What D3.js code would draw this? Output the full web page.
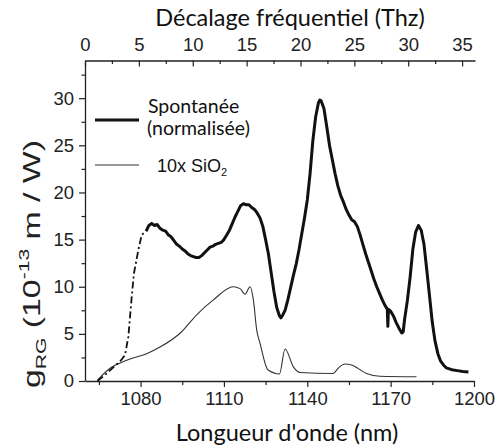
<!DOCTYPE html>
<html>
<head>
<meta charset="utf-8">
<script src="https://cdn.jsdelivr.net/npm/d3@7"></script>
<style>
  body { margin: 0; background: #fff; }
  svg { display: block; }
</style>
</head>
<body>
<div id="chart"></div>
<script>
// Spontaneous (normalised) gain, solid part
const spontWl = [1082, 1083, 1084, 1085, 1086, 1087, 1088, 1089, 1090, 1091, 1092, 1093, 1094, 1095, 1096, 1097, 1098, 1099, 1100, 1101,
  1102, 1103, 1104, 1105, 1106, 1107, 1108, 1109, 1110, 1111, 1112, 1113, 1114, 1115, 1116, 1117, 1118, 1119, 1120, 1121,
  1122, 1123, 1124, 1125, 1126, 1127, 1128, 1129, 1130, 1130.5, 1131, 1132, 1133, 1134, 1135, 1136, 1137, 1138, 1139, 1140,
  1141, 1142, 1143, 1144, 1144.5, 1145, 1146, 1147, 1148, 1149, 1150, 1151, 1152, 1153, 1154, 1155, 1156, 1157, 1158, 1159,
  1160, 1161, 1162, 1163, 1164, 1165, 1166, 1167, 1168, 1168.8, 1169, 1169.2, 1170, 1171, 1172, 1173, 1174, 1174.5, 1175, 1176,
  1177, 1178, 1179, 1180, 1181, 1182, 1183, 1184, 1185, 1186, 1187, 1188, 1189, 1190, 1192, 1194, 1196, 1198];
const spontVal = [15.9, 16.5, 16.7, 16.5, 16.6, 16.2, 16.0, 15.9, 15.5, 15.3, 14.9, 14.5, 14.3, 14.0, 13.8, 13.5, 13.3, 13.2, 13.1, 13.1,
  13.3, 13.6, 13.9, 14.2, 14.3, 14.5, 14.6, 14.7, 15.0, 15.5, 16.0, 16.7, 17.4, 18.0, 18.6, 18.8, 18.7, 18.7, 18.4, 18.2,
  17.8, 17.3, 16.4, 15.0, 13.5, 11.5, 9.5, 7.8, 6.9, 6.7, 6.9, 7.5, 8.6, 9.9, 11.2, 12.4, 13.9, 15.6, 17.3, 19.2,
  22.0, 25.5, 28.0, 29.5, 29.8, 29.7, 28.9, 27.0, 25.0, 23.5, 22.0, 20.7, 19.7, 19.0, 18.2, 17.6, 17.1, 16.9, 16.4, 15.5,
  14.5, 13.5, 12.6, 11.7, 10.8, 10.0, 9.3, 8.6, 8.0, 7.6, 5.8, 7.6, 7.4, 6.9, 6.2, 5.6, 5.1, 5.2, 6.5, 8.5,
  11.0, 14.0, 15.8, 16.5, 16.0, 14.5, 11.8, 9.0, 6.2, 4.2, 2.9, 2.1, 1.7, 1.4, 1.2, 1.1, 1.0, 0.95];

// Spontaneous, extrapolated part (dash-dot)
const dashWl = [1064.5, 1067, 1070, 1073, 1074.4, 1075.6, 1076.8, 1077.6, 1079.2, 1080.4, 1082];
const dashVal = [0, 0.6, 1.4, 2.2, 2.75, 4.7, 8.9, 11.4, 13.9, 15.5, 15.9];

// 10x SiO2
const sio2Wl = [1064.5, 1069, 1075, 1082.2, 1087, 1094.7, 1100.1, 1106.2, 1113.3, 1115.8, 1117.6, 1119.4, 1120.6, 1121.8, 1123,
  1125.8, 1130, 1132, 1135, 1137.4, 1149.3, 1151.1, 1153.5, 1155.9, 1161.3, 1166.1, 1179.3];
const sio2Val = [0.1, 1.35, 2.2, 2.9, 3.6, 5.2, 7.0, 8.6, 10.0, 9.8, 9.2, 10.0, 8.6, 5.4, 4.0,
  1.2, 0.75, 3.4, 1.5, 0.9, 0.8, 1.35, 1.8, 1.7, 0.8, 0.5, 0.45];

const bottomTicks = [1080, 1110, 1140, 1170, 1200];
const bottomMinor = [1065, 1095, 1125, 1155, 1185];
const topTicks = [0, 5, 10, 15, 20, 25, 30, 35];
const topMinor = [2.5, 7.5, 12.5, 17.5, 22.5, 27.5, 32.5];
const leftTicks = [0, 5, 10, 15, 20, 25, 30];
const leftMinor = [2.5, 7.5, 12.5, 17.5, 22.5, 27.5, 32.5];

const width = 497, height = 448;
const ink = "#222";

const svg = d3.select("#chart").append("svg")
  .attr("width", width)
  .attr("height", height);

const x = d3.scaleLinear().domain([1060, 1200]).range([85, 474]);
const xTop = d3.scaleLinear().domain([0, 36.2]).range([85, 475]);
const y = d3.scaleLinear().domain([0, 34]).range([381, 60.5]);

// --- axes ---
const axisFont = "'Liberation Sans', Arial, sans-serif";

const gBottom = svg.append("g").attr("transform", `translate(0,${y(0)})`);
gBottom.call(d3.axisBottom(x).tickValues(bottomTicks).tickFormat(d3.format("d"))
  .tickSize(6).tickPadding(5).tickSizeOuter(0));
gBottom.append("g").call(d3.axisBottom(x).tickValues(bottomMinor).tickSize(4).tickFormat("").tickSizeOuter(0))
  .select(".domain").remove();

const gTop = svg.append("g").attr("transform", `translate(0,${y.range()[1]})`);
gTop.call(d3.axisTop(xTop).tickValues(topTicks).tickSize(-6).tickPadding(10).tickSizeOuter(0));
gTop.append("g").call(d3.axisTop(xTop).tickValues(topMinor).tickSize(-3.5).tickFormat("").tickSizeOuter(0))
  .select(".domain").remove();

const gLeft = svg.append("g").attr("transform", `translate(${x(1060)},0)`);
gLeft.call(d3.axisLeft(y).tickValues(leftTicks).tickSize(6).tickPadding(5).tickSizeOuter(0));
gLeft.append("g").call(d3.axisLeft(y).tickValues(leftMinor).tickSize(3.5).tickFormat("").tickSizeOuter(0))
  .select(".domain").remove();

svg.selectAll(".domain").attr("stroke", ink).attr("stroke-width", 1.3);
svg.selectAll(".tick line").attr("stroke", ink).attr("stroke-width", 1.2);
svg.selectAll(".tick text")
  .attr("fill", ink)
  .style("font-family", axisFont)
  .style("font-size", "18.5px");

// --- curves ---
const line = d3.line().x(d => x(d[0])).y(d => y(d[1]));

svg.append("path")
  .datum(sio2Wl.map((w, i) => [w, sio2Val[i]]))
  .attr("d", line.curve(d3.curveMonotoneX))
  .attr("fill", "none")
  .attr("stroke", "#333")
  .attr("stroke-width", 1.1);

svg.append("path")
  .datum(dashWl.map((w, i) => [w, dashVal[i]]))
  .attr("d", line.curve(d3.curveLinear))
  .attr("fill", "none")
  .attr("stroke", "#111")
  .attr("stroke-width", 1.8)
  .attr("stroke-dasharray", "7,3,2,3");

svg.append("path")
  .datum(spontWl.map((w, i) => [w, spontVal[i]]))
  .attr("d", line.curve(d3.curveLinear))
  .attr("fill", "none")
  .attr("stroke", "#111")
  .attr("stroke-width", 3)
  .attr("stroke-linejoin", "round");

// --- legend ---
const legendFont = "Lato, 'Open Sans', sans-serif";
svg.append("line").attr("x1", 95).attr("x2", 139).attr("y1", 120).attr("y2", 120)
  .attr("stroke", "#111").attr("stroke-width", 3);
svg.append("text").attr("x", 148).attr("y", 113).text("Spontanée")
  .style("font-family", legendFont).style("font-size", "19.5px").attr("fill", "#111");
svg.append("text").attr("x", 147).attr("y", 135).text("(normalisée)")
  .style("font-family", legendFont).style("font-size", "19.5px").attr("fill", "#111");

svg.append("line").attr("x1", 95).attr("x2", 139).attr("y1", 165).attr("y2", 165)
  .attr("stroke", "#333").attr("stroke-width", 1.1);
const sioText = svg.append("text").attr("x", 157).attr("y", 172)
  .style("font-family", axisFont).style("font-size", "18px").attr("fill", "#111");
sioText.append("tspan").text("10x SiO");
sioText.append("tspan").attr("dy", 4).style("font-size", "11px").text("2");

// --- titles ---
svg.append("text")
  .attr("x", 290).attr("y", 26)
  .attr("text-anchor", "middle")
  .style("font-family", legendFont).style("font-size", "23.5px").attr("fill", "#111")
  .text("Décalage fréquentiel (Thz)");

svg.append("text")
  .attr("x", 287).attr("y", 441)
  .attr("text-anchor", "middle")
  .style("font-family", legendFont).style("font-size", "23.5px").attr("fill", "#111")
  .text("Longueur d'onde (nm)");

// y title, spanning y 388 -> 140 like the original
const yTitle = svg.append("text")
  .attr("transform", "translate(40,388) rotate(-90)")
  .attr("text-anchor", "start")
  .attr("textLength", 248)
  .attr("lengthAdjust", "spacingAndGlyphs")
  .style("font-family", axisFont).style("font-size", "24px").attr("fill", ink);
yTitle.append("tspan").text("g");
yTitle.append("tspan").attr("dy", 6).style("font-size", "15px").text("RG");
yTitle.append("tspan").attr("dy", -6).text(" (10");
yTitle.append("tspan").attr("dy", -11).style("font-size", "15px").text("-13");
yTitle.append("tspan").attr("dy", 11).text(" m / W)");
</script>
</body>
</html>
